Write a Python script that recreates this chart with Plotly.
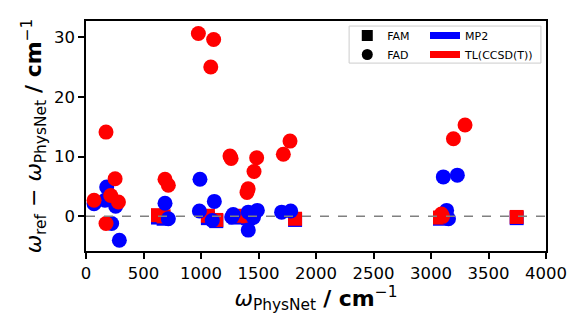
import plotly.graph_objects as go

# FAM (squares)
fam_x = [626, 675, 1060, 1133, 1300, 1409, 1818, 3078, 3745]
fam_mp2_y = [-0.2, -0.4, -0.3, -0.8, -0.2, -0.3, -0.6, -0.4, -0.3]
fam_tl_y = [0.2, 0.0, 0.1, -0.6, 0.1, 0.0, -0.4, -0.2, -0.1]

# FAD (circles)
fad_mp2_x = [70, 165, 180, 223, 258, 290, 687, 716, 986, 991, 1098, 1116,
             1267, 1280, 1411, 1411, 1456, 1490, 1701, 1780, 3107, 3229, 3136, 3152]
fad_mp2_y = [2.1, 2.7, 4.9, -1.2, 1.7, -4.0, 2.2, -0.4, 0.9, 6.2, -0.7, 2.5,
             -0.1, 0.3, -2.3, 0.7, -0.2, 1.0, 0.7, 0.9, 6.6, 6.9, 1.0, -0.4]
fad_tl_x = [70, 174, 174, 215, 253, 282, 687, 716, 977, 1085, 1110, 1252,
            1262, 1400, 1410, 1461, 1484, 1716, 1774, 3090, 3101, 3195, 3296]
fad_tl_y = [2.7, 14.1, -1.2, 3.5, 6.3, 2.4, 6.2, 5.2, 30.6, 25.0, 29.6, 10.1,
            9.7, 4.0, 4.6, 7.5, 9.8, 10.4, 12.6, 0.4, 0.0, 13.0, 15.3]

blue = "#0000ff"
red = "#ff0000"

fig = go.Figure()

# squares first, then circles (red drawn over blue)
fig.add_trace(go.Scatter(x=fam_x, y=fam_mp2_y, mode="markers",
                         marker=dict(symbol="square", size=14, color=blue),
                         showlegend=False, cliponaxis=False))
fig.add_trace(go.Scatter(x=fam_x, y=fam_tl_y, mode="markers",
                         marker=dict(symbol="square", size=14, color=red),
                         showlegend=False, cliponaxis=False))
fig.add_trace(go.Scatter(x=fad_mp2_x, y=fad_mp2_y, mode="markers",
                         marker=dict(symbol="circle", size=15, color=blue),
                         showlegend=False, cliponaxis=False))
fig.add_trace(go.Scatter(x=fad_tl_x, y=fad_tl_y, mode="markers",
                         marker=dict(symbol="circle", size=15, color=red),
                         showlegend=False, cliponaxis=False))

# legend entries (dummy traces)
fig.add_trace(go.Scatter(x=[None], y=[None], mode="markers", name="FAM",
                         marker=dict(symbol="square", size=11, color="black"),
                         legend="legend"))
fig.add_trace(go.Scatter(x=[None], y=[None], mode="markers", name="FAD",
                         marker=dict(symbol="circle", size=11, color="black"),
                         legend="legend"))
fig.add_trace(go.Scatter(x=[None], y=[None], mode="lines", name="MP2",
                         line=dict(color=blue, width=7), legend="legend2"))
fig.add_trace(go.Scatter(x=[None], y=[None], mode="lines", name="TL(CCSD(T))",
                         line=dict(color=red, width=7), legend="legend2"))

fig.add_hline(y=0, line_dash="dash", line_color="gray", line_width=1.5)

# legend frame
fig.add_shape(type="rect", xref="paper", yref="paper",
              x0=0.572, x1=0.989, y0=0.817, y1=0.978,
              line=dict(color="#cccccc", width=1), fillcolor="rgba(255,255,255,0.8)",
              layer="below")

axis_style = dict(showline=True, linecolor="black", linewidth=1.5, mirror=True,
                  ticks="outside", ticklen=6, tickwidth=1.5, tickcolor="black",
                  showgrid=False, zeroline=False,
                  tickfont=dict(size=16.5, color="black"))

fig.update_xaxes(range=[0, 4000], tickvals=[0, 500, 1000, 1500, 2000, 2500, 3000, 3500, 4000],
                 title=dict(text="<i>ω</i><sub>PhysNet</sub> <b>/ cm</b><sup>−1</sup>",
                            font=dict(size=22, color="black"), standoff=8),
                 **axis_style)
fig.update_yaxes(range=[-5.8, 32.7], tickvals=[0, 10, 20, 30],
                 title=dict(text="<i>ω</i><sub>ref</sub> − <i>ω</i><sub>PhysNet</sub> <b>/ cm</b><sup>−1</sup>",
                            font=dict(size=22, color="black"), standoff=6),
                 **axis_style)

legend_style = dict(bgcolor="rgba(0,0,0,0)", borderwidth=0, font=dict(size=11, color="black"),
                    xanchor="left", yanchor="top", tracegroupgap=0, itemwidth=30)

# page body has an 8px margin, so the figure is a bit smaller than the window
fig.update_layout(
    width=573, height=324,
    margin=dict(l=78, r=35, t=13, b=81, autoexpand=False),
    plot_bgcolor="white", paper_bgcolor="white",
    font=dict(family="DejaVu Sans", color="black"),
    legend=dict(x=0.568, y=1.0, **legend_style),
    legend2=dict(x=0.737, y=1.0, **legend_style),
)

fig.write_html("out.html")
